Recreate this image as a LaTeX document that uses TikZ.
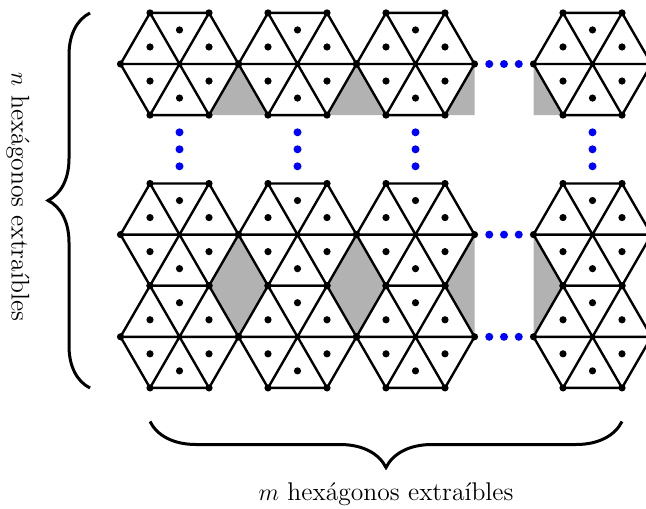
\documentclass[tikz,border=0pt]{standalone}
\usetikzlibrary{decorations.pathreplacing}
\newcommand\hexcell[2]{%
  \begin{scope}[shift={(#1,#2)}]
    \draw[edge] (0:59) -- (60:59) -- (120:59) -- (180:59) -- (240:59) -- (300:59) -- cycle;
    \draw[edge] (0:59) -- (180:59) (60:59) -- (240:59) (120:59) -- (300:59);
    \foreach \a in {0,60,...,300} {
      \fill[vdot] (\a:59) circle (1.8pt);
      \fill[vdot] (\a+30:34.06) circle (1.8pt);
    }
  \end{scope}}
\begin{document}
\begin{tikzpicture}[x=0.5pt,y=-0.5pt,
  edge/.style={line width=1.2pt, line join=round},
  vdot/.style={fill=black},
  gap/.style={fill=black!30},
  bdot/.style={fill=blue},
  bracepath/.style={line width=1.5pt, decorate},
  lbl/.style={font=\fontsize{12.8}{15}\selectfont, inner sep=0pt}]
\clip (0,0) rectangle (646,508);
% gray gaps, top row
\fill[gap] (238.5,64) -- (209,115.1) -- (268,115.1) -- cycle;
\fill[gap] (356.5,64) -- (327,115.1) -- (386,115.1) -- cycle;
\fill[gap] (474.5,64) -- (474.5,115.1) -- (445,115.1) -- cycle;
\fill[gap] (533.5,64) -- (533.5,115.1) -- (563,115.1) -- cycle;
% gray gaps, bottom block
\fill[gap] (238.5,234.6) -- (209,285.7) -- (238.5,336.8) -- (268,285.7) -- cycle;
\fill[gap] (356.5,234.6) -- (327,285.7) -- (356.5,336.8) -- (386,285.7) -- cycle;
\fill[gap] (474.5,234.6) -- (474.5,336.8) -- (445,285.7) -- cycle;
\fill[gap] (533.5,234.6) -- (533.5,336.8) -- (563,285.7) -- cycle;
% hexagons
\foreach \cx in {179.5,297.5,415.5,592.5} {
  \hexcell{\cx}{64}
  \hexcell{\cx}{234.6}
  \hexcell{\cx}{336.8}
}
% horizontal blue dots
\foreach \y in {64,234.6,336.8} {
  \foreach \x in {489.25,504,518.75} {
    \fill[bdot] (\x,\y) circle (2pt);
  }
}
% vertical blue dots
\foreach \x in {179.5,297.5,415.5,592.5} {
  \foreach \y in {132.3,149.3,166.3} {
    \fill[bdot] (\x,\y) circle (2pt);
  }
}
% braces
\coordinate (lb1) at (90,388);
\coordinate (lb2) at (90,13);
\draw[bracepath, decoration={brace, amplitude=21pt}] (lb1) -- (lb2);
\coordinate (bb1) at (622,421.5);
\coordinate (bb2) at (150,421.5);
\draw[bracepath, decoration={brace, amplitude=23pt}] (bb1) -- (bb2);
\node[lbl, anchor=base] (mlabel) at (386,500) {$m$ hexágonos extraíbles};
\node[lbl, rotate=-90] (nlabel) at (18,197) {$n$ hexágonos extraíbles};
\end{tikzpicture}
\end{document}
